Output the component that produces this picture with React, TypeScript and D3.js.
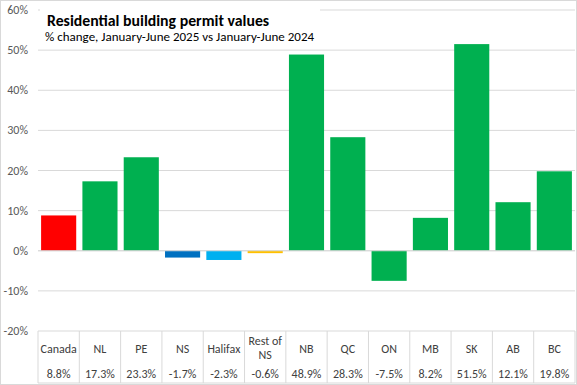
import React from "react";
import * as d3 from "d3";

const categories = ["Canada", "NL", "PE", "NS", "Halifax", "Rest of NS", "NB", "QC", "ON", "MB", "SK", "AB", "BC"];
const values = [8.8, 17.3, 23.3, -1.7, -2.3, -0.6, 48.9, 28.3, -7.5, 8.2, 51.5, 12.1, 19.8];
const barColors = ["#FF0000", "#00B050", "#00B050", "#0070C0", "#00B0F0", "#FFC000", "#00B050", "#00B050", "#00B050", "#00B050", "#00B050", "#00B050", "#00B050"];
const yTicks = [-20, -10, 0, 10, 20, 30, 40, 50, 60];
const title = "Residential building permit values";
const subtitle = "% change, January-June 2025 vs January-June 2024";

const W = 577, H = 385;
const left = 38, right = 575, top = 10, bottom = 331, tableBottom = 383;
const font = "Carlito, 'Liberation Sans', 'Noto Sans', sans-serif";

export default function App() {
  const x = d3.scaleBand<string>().domain(categories).range([left, right]).paddingInner(0.15).paddingOuter(0.075);
  const xb = d3.scaleBand<string>().domain(categories).range([left, right]).padding(0);
  const y = d3.scaleLinear().domain([-20, 60]).range([bottom, top]);
  const fmt = (v: number) => `${v.toFixed(1)}%`;
  return (
    <svg width={W} height={H} style={{ position: "absolute", left: 0, top: 0, fontFamily: font }}>
      <rect x={0.5} y={0.5} width={W - 1} height={H - 1} fill="#fff" stroke="#d9d9d9" />
      {yTicks.map((t) => (
        <g key={t}>
          <line x1={left} x2={right} y1={y(t)} y2={y(t)} stroke="#d9d9d9" strokeWidth={1} />
          <text x={28} y={y(t) + 4} textAnchor="end" fontSize={12} fill="#595959">{`${t}%`}</text>
        </g>
      ))}
      <rect x={40} y={3} width={280} height={42} fill="#fff" />
      <text x={47} y={26} fontSize={15.8} fontWeight="bold" fill="#000">{title}</text>
      <text x={45} y={41} fontSize={13} fill="#000">{subtitle}</text>
      {categories.map((c, i) => (
        <rect key={c} x={x(c)} width={x.bandwidth()} y={Math.min(y(values[i]), y(0))} height={Math.abs(y(values[i]) - y(0))} fill={barColors[i]} />
      ))}
      <line x1={left} x2={right} y1={y(0)} y2={y(0)} stroke="#d9d9d9" />
      {/* data table */}
      <line x1={left} x2={left} y1={bottom} y2={tableBottom} stroke="#d9d9d9" />
      {categories.map((c) => (
        <line key={c} x1={(xb(c) as number) + xb.bandwidth()} x2={(xb(c) as number) + xb.bandwidth()} y1={bottom} y2={tableBottom} stroke="#d9d9d9" />
      ))}
      <line x1={left} x2={right} y1={tableBottom} y2={tableBottom} stroke="#d9d9d9" />
      {categories.map((c, i) => {
        const cx = (xb(c) as number) + xb.bandwidth() / 2;
        const parts = c === "Rest of NS" ? ["Rest of", "NS"] : [c];
        return (
          <g key={c} fill="#404040" fontSize={12} textAnchor="middle">
            {parts.length === 1 ? (
              <text x={cx} y={353}>{c}</text>
            ) : (
              <>
                <text x={cx} y={345}>{parts[0]}</text>
                <text x={cx} y={359}>{parts[1]}</text>
              </>
            )}
            <text x={cx} y={378}>{fmt(values[i])}</text>
          </g>
        );
      })}
    </svg>
  );
}
